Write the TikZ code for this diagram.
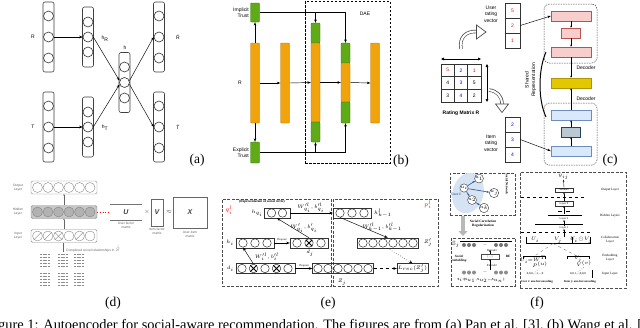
\documentclass[tikz,border=0pt]{standalone}
\usepackage{fontspec}
\usepackage{amssymb}
\setmainfont{Liberation Serif}
\setsansfont{Liberation Sans}
\usetikzlibrary{arrows.meta,shapes.geometric,calc}
\definecolor{orangeF}{HTML}{F0A30A}
\definecolor{orangeD}{HTML}{BD7000}
\definecolor{greenF}{HTML}{60A917}
\definecolor{greenD}{HTML}{2D7600}
\definecolor{pinkF}{HTML}{F8CECC}
\definecolor{pinkD}{HTML}{B85450}
\definecolor{yelF}{HTML}{E3C800}
\definecolor{yelD}{HTML}{B09500}
\definecolor{bluF}{HTML}{DAE8FC}
\definecolor{bluD}{HTML}{6C8EBF}
\definecolor{slateF}{HTML}{BAC8D3}
\definecolor{slateD}{HTML}{23445D}
\definecolor{numred}{HTML}{E51400}
\definecolor{numblue}{HTML}{0000FF}
\definecolor{netblue}{HTML}{2F5597}
\definecolor{ellF}{HTML}{D5E3F2}
\newcommand{\myfs}[2]{\fontsize{#1}{#2}\selectfont}
\tikzset{
  arr/.style={-{Stealth[length=3.5pt,width=2.6pt]}, line width=0.45pt},
  sarr/.style={-{Stealth[length=2pt,width=1.6pt]}, line width=0.35pt},
  acol/.style={draw=black!75, rounded corners=2pt, minimum width=11pt, inner sep=0pt, line width=0.6pt},
  acirc/.style={circle, draw=black!80, fill=white, minimum size=10pt, inner sep=0pt, line width=0.6pt},
  albl/.style={font=\sffamily\myfs{5}{6.5}, inner sep=0pt},
  obox/.style={draw=orangeD, fill=orangeF, minimum width=9pt, inner sep=0pt, rounded corners=0.8pt, line width=0.4pt},
  gbox/.style={draw=greenD, fill=greenF, minimum width=9pt, inner sep=0pt, rounded corners=0.8pt, line width=0.4pt},
  daebox/.style={draw=black, dash pattern=on 2.5pt off 1.5pt, line width=1pt, inner sep=0pt},
  cell/.style={draw=black!80, minimum width=15pt, minimum height=15pt, inner sep=0pt, font=\sffamily\myfs{5}{6}, line width=0.5pt},
  mcell/.style={draw=black!80, minimum width=13.3pt, minimum height=12.7pt, inner sep=0pt, font=\sffamily\myfs{5}{6}, line width=0.5pt},
  crect/.style={minimum height=10pt, inner sep=0pt, line width=0.5pt},
  cdash/.style={draw=black!70, dash pattern=on 1.5pt off 1pt, rounded corners=5pt, inner sep=0pt, line width=0.5pt},
  dbox/.style={draw=black!45, rounded corners=1.5pt, minimum width=66pt, minimum height=13pt, inner sep=0pt, line width=0.4pt},
  dcirc/.style={circle, draw=black!50, minimum size=10pt, inner sep=0pt, line width=0.35pt},
  dlbl/.style={font=\sffamily\myfs{3.3}{3.8}, text=black!60, inner sep=0pt, align=center},
  ebox/.style={draw=black!80, minimum height=10pt, inner sep=0pt, line width=0.45pt},
  ecirc/.style={circle, draw=black!85, minimum size=8.5pt, inner sep=0pt, line width=0.45pt},
  elbl/.style={font=\myfs{4}{4.5}, inner sep=0pt},
  edash/.style={draw=black!70, dash pattern=on 3pt off 1.5pt, line width=0.5pt, inner sep=0pt},
  flbl/.style={font=\myfs{3.3}{3.8}, inner sep=0pt, align=center},
  fnode/.style={circle, draw=black!80, fill=white, minimum size=6.5pt, inner sep=0pt, line width=0.4pt, font=\myfs{2.5}{3}},
  farr/.style={-{Stealth[length=2.5pt,width=2pt]}, line width=0.6pt, draw=netblue},
  fbox/.style={draw=black!80, minimum width=18pt, minimum height=4.5pt, inner sep=0pt, line width=0.35pt, font=\myfs{2.8}{3}},
  sublbl/.style={font=\myfs{13.5}{14}, inner sep=0pt},
}
\begin{document}
\begin{tikzpicture}[x=1pt,y=-1pt]
\useasboundingbox (0,0) rectangle (640,327);
\clip (0,0) rectangle (640,327);
\fill[white] (0,0) rectangle (640,327);

% ================= (a) =================
\node[acol, minimum height=70pt] (aR) at (48.5,37) {};
\foreach \i/\y in {1/16,2/37,3/58}{\node[acirc] (aR\i) at (48.5,\y) {};}
\node[acol, minimum height=70pt] (aT) at (48.5,127) {};
\foreach \i/\y in {1/106,2/127,3/148}{\node[acirc] (aT\i) at (48.5,\y) {};}
\node[acol, minimum height=60pt] (ahR) at (88,37) {};
\foreach \i/\y in {1/22,2/37,3/52}{\node[acirc] (ahR\i) at (88,\y) {};}
\node[acol, minimum height=60pt] (ahT) at (88,127) {};
\foreach \i/\y in {1/112,2/127,3/142}{\node[acirc] (ahT\i) at (88,\y) {};}
\node[acol, minimum height=60pt] (ah) at (124.5,82.5) {};
\foreach \i/\y in {1/67,2/82.5,3/98}{\node[acirc] (ah\i) at (124.5,\y) {};}
\node[acol, minimum height=70pt] (aRh) at (159,37) {};
\foreach \i/\y in {1/16,2/37,3/58}{\node[acirc] (aRh\i) at (159,\y) {};}
\node[acol, minimum height=70pt] (aTh) at (159,127) {};
\foreach \i/\y in {1/106,2/127,3/148}{\node[acirc] (aTh\i) at (159,\y) {};}
\draw[arr] (aR2.east) -- (ahR2.west);
\draw[arr] (aT2.east) -- (ahT2.west);
\draw[arr] (ahR2.east) -- (ah2.160);
\draw[arr] (ahT2.east) -- (ah2.200);
\draw[arr] (ah2.20) -- (aRh2.west);
\draw[arr] (ah2.-20) -- (aTh2.west);
\node[albl] (laR) at (33,37) {R};
\node[albl] (laT) at (33,127) {T};
\node[albl] (lahR) at (105,39) {h\textsubscript{R}};
\node[albl] (lahT) at (105,128) {h\textsubscript{T}};
\node[albl] (lah) at (125,48) {h};
\node[albl] (laRh) at (178,37) {$\hat{\mathsf{R}}$};
\node[albl] (laTh) at (178,127) {$\hat{\mathsf{T}}$};
\node[sublbl] (la) at (197,160.5) {(a)};

% ================= (b) =================
\node[daebox, minimum width=85pt, minimum height=162pt] (dae) at (347.5,82) {};
\node[gbox, minimum height=19pt] (bimp) at (255,12.5) {};
\node[obox, minimum height=80pt] (bR) at (255,83) {};
\node[gbox, minimum height=21pt] (bexp) at (255,152.5) {};
\node[obox, minimum height=80pt] (b2) at (285,83) {};
\node[gbox, minimum height=20pt] (b3t) at (315.5,33) {};
\node[obox, minimum height=79pt] (b3m) at (315.5,82.5) {};
\node[gbox, minimum height=20pt] (b3b) at (315.5,132) {};
\node[gbox, minimum height=20pt] (b4t) at (345.5,53) {};
\node[obox, minimum height=39pt] (b4m) at (345.5,82.5) {};
\node[gbox, minimum height=21pt] (b4b) at (345.5,112.5) {};
\node[obox, minimum height=80pt] (b5) at (375,83) {};
\draw[arr] (bR.north) -- (bimp.south);
\draw[arr] (bR.south) -- (bexp.north);
\draw[arr] (bR.east) -- (b2.west);
\draw[arr] (b2.east) -- (b3m.west);
\draw[arr] (b3m.east) -- (b4m.west);
\draw[arr] (b4m.east) -- (b5.west);
\draw[arr] (bimp.east) -| (b4t.north);
\draw[arr] (b3t.north |- bimp.east) -- (b3t.north);
\draw[arr] (bexp.east) -| (b4b.south);
\draw[arr] (b3b.south |- bexp.east) -- (b3b.south);
\node[albl, align=right, anchor=east] (lbimp) at (249,12.5) {Implicit\\Trust};
\node[albl, align=right, anchor=east] (lbexp) at (249,152.5) {Explicit\\Trust};
\node[albl] (lbR) at (240,83) {R};
\node[albl] (ldae) at (365,14) {DAE};
\node[sublbl] (lb) at (401,161.5) {(b)};

% ================= (c) =================
\node[cell] (cu1) at (512.5,10.5) {\color{numred}5};
\node[cell] (cu2) at (512.5,25.5) {\color{numred}2};
\node[cell] (cu3) at (512.5,40.5) {\color{numred}1};
\node[cell] (ci1) at (512.5,124.5) {\color{numblue}2};
\node[cell] (ci2) at (512.5,139.5) {\color{numblue}3};
\node[cell] (ci3) at (512.5,154.5) {\color{numblue}4};
\node[mcell] (m11) at (447.7,70.3) {\color{numred}5};
\node[mcell] (m12) at (461,70.3) {\color{numblue}2};
\node[mcell] (m13) at (474.3,70.3) {\color{numred}1};
\node[mcell] (m21) at (447.7,83) {4};
\node[mcell] (m22) at (461,83) {\color{numblue}3};
\node[mcell] (m23) at (474.3,83) {5};
\node[mcell] (m31) at (447.7,95.7) {3};
\node[mcell] (m32) at (461,95.7) {\color{numblue}4};
\node[mcell] (m33) at (474.3,95.7) {2};
\coordinate (dh1) at (441,59);
\coordinate (dh2) at (481,59);
\coordinate (dv1) at (487,64);
\coordinate (dv2) at (487,102);
\draw[{Triangle[length=3pt,width=2.6pt]}-{Triangle[length=3pt,width=2.6pt]}, line width=0.5pt] (dh1) -- (dh2);
\draw[{Triangle[length=3pt,width=2.6pt]}-{Triangle[length=3pt,width=2.6pt]}, line width=0.5pt] (dv1) -- (dv2);
\node[font=\sffamily\bfseries\myfs{5}{6}, inner sep=0pt] (lrm) at (461,113) {Rating Matrix R};
% hollow curved arrows
\draw[line width=3.4pt, black!70] (461,49) .. controls (459,37) and (466,31) .. (477,31.5);
\draw[line width=2pt, white] (461,49.5) .. controls (459,37) and (466,31) .. (477.5,31.5);
\filldraw[fill=white, draw=black!70, line width=0.7pt] (476.5,25) -- (486,32) -- (476.5,39) -- cycle;
\draw[line width=3.4pt, black!70] (489,90) .. controls (497,91) and (502,96) .. (502,104);
\draw[line width=2pt, white] (488.5,90) .. controls (497,91) and (502,96) .. (502,104.5);
\filldraw[fill=white, draw=black!70, line width=0.7pt] (495.5,104) -- (502,112.5) -- (508.5,104) -- cycle;
\node[albl, align=center] (luv) at (491,14) {User\\rating\\vector};
\node[albl, align=center] (liv) at (491,143) {Item\\rating\\vector};
\node[cdash, minimum width=53pt, minimum height=59pt] (cbox1) at (570.5,33.5) {};
\node[cdash, minimum width=53pt, minimum height=62pt] (cbox2) at (570.5,134) {};
\node[crect, fill=pinkF, draw=pinkD, minimum width=40pt] (cp1) at (571,16) {};
\node[crect, fill=pinkF, draw=pinkD, minimum width=19pt] (cp2) at (571,33) {};
\node[crect, fill=pinkF, draw=pinkD, minimum width=40pt] (cp3) at (571,52) {};
\node[crect, fill=yelF, draw=yelD, minimum width=40pt] (cy) at (571,83) {};
\node[crect, fill=bluF, draw=bluD, minimum width=40pt] (cb1) at (571,115) {};
\node[crect, fill=slateF, draw=slateD, minimum width=19pt] (cb2) at (571,132) {};
\node[crect, fill=bluF, draw=bluD, minimum width=40pt] (cb3) at (571,151) {};
\draw[sarr] (cp1.south) -- (cp2.north);
\draw[sarr] (cp2.south) -- (cp3.north);
\draw[sarr] (cp3.south) -- (cy.north);
\draw[sarr] (cb3.north) -- (cb2.south);
\draw[sarr] (cb2.north) -- (cb1.south);
\draw[sarr] (cb1.north) -- (cy.south);
\draw[arr] (cu2.east) -- (cp1.west);
\draw[arr] (ci2.east) -- (cb3.west);
\node[albl] (ldec1) at (586,68) {Decoder};
\node[albl] (ldec2) at (586,99) {Decoder};
\node[albl, rotate=90, align=center] (lshr) at (530.5,80) {Shared\\Representation};
\draw[line width=1pt] (546,52) .. controls (538,70) and (538,100) .. (546,117);
\node[sublbl] (lc) at (610,160.5) {(c)};

% ================= (d) =================
\node[dbox] (dout) at (64,187.5) {};
\node[dbox, fill=black!22] (dhid) at (64,212) {};
\node[dbox] (din) at (64,236) {};
\foreach \k in {1,...,6}{
  \node[dcirc] (do\k) at ({27+10.5*\k},187.5) {};
  \node[dcirc, fill=black!30] (dh\k) at ({27+10.5*\k},212) {};
  \node[dcirc] (di\k) at ({27+10.5*\k},236) {};
}
\foreach \k in {1,2,3,5}{\draw[black!50, line width=0.35pt] (di\k.south west) -- (di\k.north east);}
\draw[black!50, line width=0.35pt] (di3.north west) -- (di3.south east);
\draw[-{Stealth[length=1.5pt,width=1.5pt]}, black!60, line width=0.3pt] (din.north) -- (dhid.south);
\draw[-{Stealth[length=1.5pt,width=1.5pt]}, black!60, line width=0.3pt] (dhid.north) -- (dout.south);
\coordinate (dmtop) at (63,252);
\draw[black!60, line width=0.3pt] (dmtop) -- (dmtop |- din.south);
\node[dlbl, anchor=west] (ldcs) at (66,249) {Completed social relationships in $\hat{S}$};
\node[dlbl] (ldo) at (18,187.5) {Output\\Layer};
\node[dlbl] (ldh) at (18,212) {Hidden\\Layer};
\node[dlbl] (ldi) at (18,236) {Input\\Layer};
\foreach \mx/\my in {45/260.5,63/260.5,79/260.5,45/279.5,63/279.5,79/279.5}{
  \foreach \r in {0,...,4}{
    \draw[black!45, line width=0.9pt, dash pattern=on 2pt off 0.6pt] (\mx-5,\my-6+3*\r) -- (\mx+5,\my-6+3*\r);
  }
}
\node[inner sep=0pt, minimum width=32pt, minimum height=16pt, font=\sffamily\bfseries\itshape\myfs{7}{8}, text=black!75] (dU) at (126,212) {U};
\draw[black!55, line width=0.4pt] (dU.north west) -- (dU.north east);
\draw[black!55, line width=0.4pt] (dU.south west) -- (dU.south east);
\draw[red, dotted, line width=0.7pt] (dhid.east) -- (dU.west);
\node[inner sep=0pt, text=black!60, font=\myfs{6}{6}] (dtimes) at (147,212) {$\times$};
\node[draw=black!60, line width=0.4pt, inner sep=0pt, minimum width=12pt, minimum height=27pt, font=\sffamily\bfseries\itshape\myfs{7}{8}, text=black!75] (dV) at (157,212.5) {V};
\node[inner sep=0pt, text=black!70, font=\myfs{6}{6}] (dapprox) at (169,212) {$\approx$};
\node[draw=black!60, line width=0.4pt, inner sep=0pt, minimum width=34pt, minimum height=31pt, font=\sffamily\bfseries\itshape\myfs{7}{8}, text=black!75] (dX) at (190,212.5) {X};
\node[dlbl] (ldU) at (126,225.5) {User factor\\matrix};
\node[dlbl] (ldV) at (157,231) {Item factor\\matrix};
\node[dlbl] (ldX) at (190,234.5) {User-item\\matrix};
\node[sublbl] (ld) at (113,303.5) {(d)};

% ================= (e) =================
\node[edash, minimum width=109pt, minimum height=87pt] (eLb) at (276.5,242.5) {};
\node[edash, minimum width=105pt, minimum height=87pt] (eRb) at (385.5,242.5) {};
\node[ebox, minimum width=26pt] (ehq) at (277,213) {};
\foreach \k/\x in {1/271.5,2/282.5}{\node[ecirc] (ehq\k) at (\x,213) {};}
\node[ebox, minimum width=38pt] (ehk) at (352,213) {};
\foreach \k/\x in {1/340,2/352,3/364}{\node[ecirc] (ehk\k) at (\x,213) {};}
\node[ebox, minimum width=38pt] (ehi) at (255,243) {};
\foreach \k/\x in {1/243,2/255,3/267}{\node[ecirc] (ehi\k) at (\x,243) {};}
\node[ebox, minimum width=38pt] (edj) at (309,243) {};
\foreach \k/\x in {1/297,2/309,3/321}{\node[ecirc] (edj\k) at (\x,243) {};}
\node[ebox, minimum width=59pt] (edi) at (265.5,268.5) {};
\foreach \k/\x in {1/242,2/253.5,3/265,4/276.5,5/288}{\node[ecirc] (edi\k) at (\x,268.5) {};}
\node[ebox, minimum width=61pt] (eZ) at (343,268.5) {};
\foreach \k/\x in {1/318,2/328,3/338,4/348,5/358,6/368}{\node[ecirc] (eZ\k) at (\x,268.5) {};}
\node[ebox, minimum width=60.5pt] (emr) at (387.75,243) {};
\foreach \k/\x in {1/363,2/373,3/383,4/393,5/403,6/413}{\node[ecirc] (emr\k) at (\x,243) {};}
\node[ebox, minimum width=31pt, font=\myfs{4}{4.5}] (eLr) at (412.5,268.5) {$L_{rec}(Z'_j)$};
\draw[line width=1pt] (edj2.north west) -- (edj2.south east) (edj2.north east) -- (edj2.south west);
\foreach \k in {2,4}{\draw[line width=1pt] (edi\k.north west) -- (edi\k.south east) (edi\k.north east) -- (edi\k.south west);}
\draw[arr] (ehq.east) -- (ehk.west);
\draw[arr] (edj.north) -- (ehq.south);
\draw[arr] (ehi.east) -- (edj.west);
\draw[arr] (edi2.north) -- (ehi1.south);
\draw[arr] (edi.east) -- (eZ.west);
\draw[arr, dashed] (eZ.east) -- (eLr.west);
\draw[arr] (ehk1.south) -- (emr.north);
\draw[arr, dotted] (emr.south) -- (eLr.north);
\node[elbl, text=red, font=\bfseries\myfs{6}{6}] (lq) at (229,210) {$q_i^l$};
\node[elbl, font=\bfseries\myfs{3.4}{4}] (lrep) at (262,202) {(Representation of social circle)};
\node[elbl, anchor=east] (lhq) at (263,213) {$h_{q_i}$};
\node[elbl] (lw1) at (311,207.5) {$W'^{l}_{q_i},b'^{l}_{q_i}$};
\node[elbl] (lw2) at (304,228) {$W'_{q_i},b'_{q_i}$};
\node[elbl, anchor=east] (lhi) at (234,243) {$h_i$};
\node[elbl, font=\myfs{2.8}{3}] (ldrop1) at (282,240) {Dropout};
\node[elbl] (ldj) at (310,253.5) {$d_j$};
\node[elbl, anchor=east] (ldi) at (234,268.5) {$d_i$};
\node[elbl] (lw3) at (267,257) {$W'^{l}_{i},b'^{l}_{i}$};
\node[elbl, font=\myfs{2.8}{3}] (ldrop2) at (304,266) {Dropout};
\node[elbl] (lZ) at (342,282) {$Z_j$};
\node[elbl, anchor=west] (lhk) at (374,213) {$h^{l}_{k-1}$};
\node[elbl] (lw4) at (382,227) {$W'^{l}_{k-1},b'^{l}_{k-1}$};
\node[elbl, text=red, font=\bfseries\myfs{6}{6}] (lp) at (428,205) {$p_i^l$};
\node[elbl] (lZp) at (428,243) {$Z'_j$};
\node[sublbl] (le) at (328,303.5) {(e)};

% ================= (f) =================
\node[edash, minimum width=65pt, minimum height=42pt] (fnet) at (482.5,194) {};
\node[edash, minimum width=64pt, minimum height=48pt] (femb) at (483,262) {};
\node[edash, minimum width=106pt, minimum height=116pt] (fmain) at (573,230) {};
\node[ellipse, fill=ellF, draw=none, minimum width=31pt, minimum height=41pt, rotate=-15] (fell) at (468,193) {};
\node[fnode] (fui) at (464,188) {$u_i$};
\node[fnode] (fu2) at (479,178.5) {$u_1$};
\node[fnode] (fu3) at (472,200) {$u_2$};
\node[fnode] (fuj) at (494,193) {$u_j$};
\node[fnode] (fuk) at (484,208) {$u_k$};
\draw[farr] (fui) -- (fu2);
\draw[farr] (fui) -- (fuj);
\draw[farr] (fui) -- (fu3);
\draw[farr] (fu3) -- (fuk);
\node[font=\bfseries\myfs{3.5}{4}, text=netblue, inner sep=0pt] (lui) at (456,194) {User I};
\node[flbl, rotate=-90, font=\bfseries\myfs{3.3}{3.8}] (lsn) at (507,184) {Social Network};
\coordinate (fga) at (463,216);
\coordinate (fgb) at (463,236);
\draw[line width=4pt, black!28, -{Triangle[length=5pt,width=9pt]}] (fga) -- (fgb);
\node[flbl, font=\bfseries\myfs{3.4}{4}] (lscr) at (483,224) {Social Correlation\\Regularization};
\node[flbl, font=\myfs{6}{6}] (fSj) at (456,244.5) {$\mathbb{S}_j$};
\coordinate (fdl) at (460,241);
\coordinate (fdr) at (512,241);
\draw[line width=0.4pt] (fdl) -- (fdr);
\foreach \x in {464,469,474,496,501,506}{
  \node[circle, fill=black!55, minimum size=4pt, inner sep=0pt] (fct\x) at (\x,245) {};
  \node[circle, fill=black!45, minimum size=4pt, inner sep=0pt] (fcb\x) at (\x,272.5) {};
}
\node[flbl] (fdash1) at (485,245) {---};
\node[flbl] (fdash2) at (485,272.5) {---};
\node[flbl, font=\itshape\myfs{3}{3.5}] (lfdec) at (492,250.5) {Decoder};
\node[flbl, font=\bfseries\itshape\myfs{3.3}{3.8}] (lfse) at (459,259) {Social\\embedding};
\node[draw=black!70, line width=0.3pt, minimum width=18pt, minimum height=5pt, inner sep=0pt, font=\myfs{2.5}{3}] (fsb) at (490,256.5) {[\,\dots\,]};
\node[flbl, font=\bfseries\myfs{3.3}{3.8}] (lfbe) at (508,256.5) {BE};
\node[flbl, font=\itshape\myfs{3}{3.5}] (lfenc) at (492,265) {Encoder};
\draw[sarr] (fsb.north) -- ++(0,-4);
\draw[sarr] (fsb.south |- fcb496.north) -- (fsb.south);
\node[flbl, font=\bfseries\myfs{3.2}{3.8}] (lfsi) at (481,280.5) {S$_i$=[S$_{u_1}$, S$_{u_2}$,...,S$_{u_n}$]};
\node[flbl, font=\myfs{5}{5}] (fyhat) at (563.5,176.5) {$\hat{y}_{ij}$};
\node[fbox] (fsoft) at (564,190) {Softmax};
\node[fbox] (flP) at (564,203.5) {Layer P};
\draw[sarr] (fsoft.north) -- (fyhat.south);
\draw[sarr] (flP.north) -- (fsoft.south);
\coordinate (fdsa) at (521,197);
\coordinate (fdsb) at (584,197);
\draw[dashed, line width=0.35pt] (fdsa) -- (fdsb);
\draw[line width=0.5pt] (558,211) -- (562,211) (566,211) -- (570,211);
\draw[sarr] (564,213.5) -- (flP.south);
\node[flbl, font=\myfs{2.8}{3}] (fl2) at (564,218.5) {Layer 2};
\draw[line width=0.4pt] (548,215.5) -- (582,215.5);
\node[flbl, font=\myfs{2.8}{3}] (fl1) at (564,227.5) {Layer 1};
\draw[line width=0.4pt] (535,224) -- (583,224);
\draw[sarr] (fl1.north) -- (fl2.south);
\coordinate (fdsc) at (521,232.5);
\coordinate (fdsd) at (592,232.5);
\draw[dashed, line width=0.35pt] (fdsc) -- (fdsd);
\draw[sarr] (564,237) -- (fl1.south);
\node[flbl, font=\myfs{3.3}{3.8}] (fUi) at (535,240) {$U_i$};
\node[flbl, font=\myfs{3.3}{3.8}] (fVj) at (558,240) {$V_j$};
\node[flbl, font=\myfs{3.3}{3.8}] (fUV) at (581,240) {$U_i\!\odot\!V_j$};
\draw[line width=0.5pt] (526,237) -- (526,243.5) -- (590,243.5) -- (590,237);
\draw[line width=0.5pt] (572,237) -- (572,243.5);
\coordinate (fsplit) at (553,243.5);
\coordinate (fel) at (534,256.5);
\coordinate (fer) at (578,256.5);
\draw[dashed, black!60, line width=0.3pt] (fsplit) -- (fel);
\draw[dashed, black!60, line width=0.3pt] (fsplit) -- (fer);
\draw[line width=0.4pt] (523,259) -- (523,256.5) -- (545,256.5) -- (545,259);
\draw[line width=0.4pt] (567,259) -- (567,256.5) -- (589,256.5) -- (589,259);
\node[flbl, font=\myfs{3}{3.5}] (fUe) at (533,259.5) {$U_i{=}W^{T}$};
\node[flbl, font=\myfs{3}{3.5}] (fPe) at (540,265) {$P^{(u)}$};
\node[flbl, font=\myfs{3}{3.5}] (fVe) at (578,259.5) {$V_j$};
\node[flbl, font=\myfs{3}{3.5}] (fQe) at (584,264) {$V^{(v)}$};
\node[flbl, font=\myfs{3}{3.5}] (fin1) at (535,273.5) {0,0,0,...,1,...,0};
\node[flbl, font=\myfs{3}{3.5}] (fin2) at (578,273.5) {0,0,1,...,0,0,0};
\draw[dotted, line width=0.4pt] (fin1.north) -- (fPe.south);
\draw[dotted, line width=0.4pt] (fin2.north) -- (fQe.south);
\draw[line width=0.6pt] (592,270) -- (592,277.5);
\node[flbl, font=\bfseries\myfs{3}{3.5}] (fo1) at (537,282) {User i: one-hot encoding};
\node[flbl, font=\bfseries\myfs{3}{3.5}] (fo2) at (580,282) {Item j: one-hot encoding};
\node[flbl] (lfo) at (610,189.5) {Output Layer};
\node[flbl] (lfh) at (610,216) {Hidden Layers};
\node[flbl] (lfc) at (610,240) {Collaboration\\Layer};
\node[flbl] (lfe) at (610,258) {Embedding\\Layer};
\node[flbl] (lfi) at (610,274) {Input Layer};
\node[sublbl] (lf) at (537,303.5) {(f)};

% ================= caption =================
\node[anchor=base west, font=\myfs{14.4}{15}, inner sep=0pt] (cap) at (-14,329) {Figure 1: Autoencoder for social-aware recommendation. The figures are from (a) Pan et al. [3], (b) Wang et al. [3],};
\end{tikzpicture}
\end{document}
